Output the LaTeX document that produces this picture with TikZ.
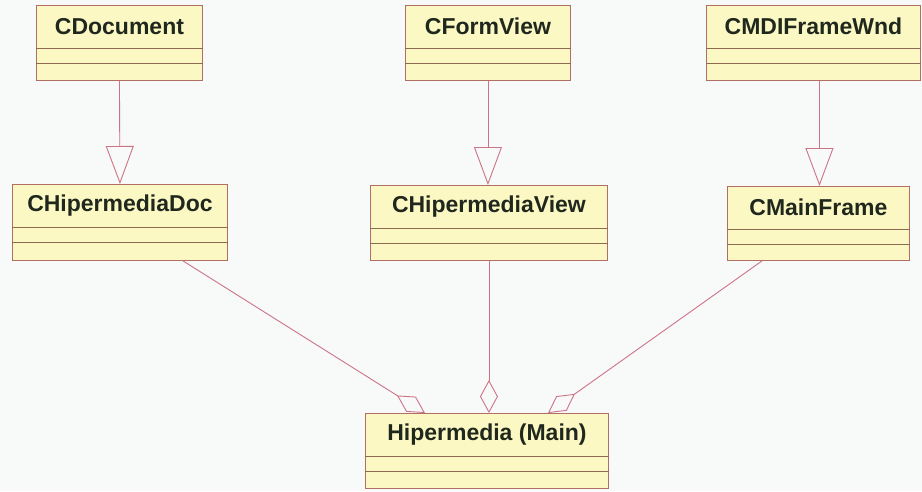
\documentclass[tikz,border=0pt]{standalone}
\usepackage{fontspec}
\setmainfont{Liberation Sans}
\usetikzlibrary{arrows.meta,calc}
\definecolor{bg}{RGB}{248,249,249}
\definecolor{clsfill}{RGB}{251,248,196}
\definecolor{clsedge}{RGB}{176,110,100}
\definecolor{clssep}{RGB}{140,105,80}
\definecolor{wire}{RGB}{205,115,135}
\definecolor{ink}{RGB}{32,40,30}
\tikzset{
  clsbox/.style={draw=clsedge, fill=clsfill, line width=0.9pt, anchor=north west, inner sep=0pt},
  clsname/.style={font=\bfseries\fontsize{23}{26}\selectfont, text=ink, inner sep=0pt},
  clsline/.style={draw=clssep, line width=0.8pt},
  gen/.style={draw=wire, line width=0.9pt, -{Triangle[open, length=38pt, width=28pt, line width=0.9pt]}},
  agg/.style={draw=wire, line width=0.9pt, -{Diamond[open, length=33pt, width=18pt, line width=0.9pt]}}
}
% class box: #1 node name, #2 left, #3 top, #4 width, #5 height, #6 label
\newcommand\umlclass[6]{%
  \node[clsbox, minimum width=#4pt, minimum height=#5pt] (#1) at (#2,#3) {};
  \node[clsname] (#1-label) at ($(#1.north)+(0,21.5)$) {#6};
  \draw[clsline] ($(#1.north west)+(0,43)$) -- ($(#1.north east)+(0,43)$);
  \draw[clsline] ($(#1.north west)+(0,58)$) -- ($(#1.north east)+(0,58)$);
}
\begin{document}
\begin{tikzpicture}[x=1pt, y=-1pt]
  \fill[bg] (0,0) rectangle (922,491);
  \useasboundingbox (0,0) rectangle (922,491);

  % base classes
  \umlclass{cdoc}{36}{5}{166}{75}{CDocument}
  \umlclass{cform}{405}{5}{165}{75}{CFormView}
  \umlclass{cmdi}{706}{5}{214}{75}{CMDIFrameWnd}

  % application classes
  \umlclass{chdoc}{12}{184}{215}{76}{CHipermediaDoc}
  \umlclass{chview}{370}{185}{237}{75}{CHipermediaView}
  \umlclass{cmain}{727}{186}{182}{74}{CMainFrame}

  % application object
  \umlclass{app}{365}{413}{243}{75}{Hipermedia (Main)}

  % inheritance
  \draw[gen] (cdoc.south) -- (chdoc.north);
  \draw[gen] (cform.south) -- (cform.south |- chview.north);
  \coordinate (mdiout) at ($(cmdi.south)+(6,0)$);
  \draw[gen] (mdiout) -- (mdiout |- cmain.north);

  % aggregation into the application object
  \draw[agg] ($(chdoc.south west)+(171,0)$) -- ($(app.north west)+(60,0)$);
  \draw[agg] (chview.south) -- (chview.south |- app.north);
  \draw[agg] ($(cmain.south west)+(35,0)$) -- ($(app.north west)+(183,0)$);
\end{tikzpicture}
\end{document}
